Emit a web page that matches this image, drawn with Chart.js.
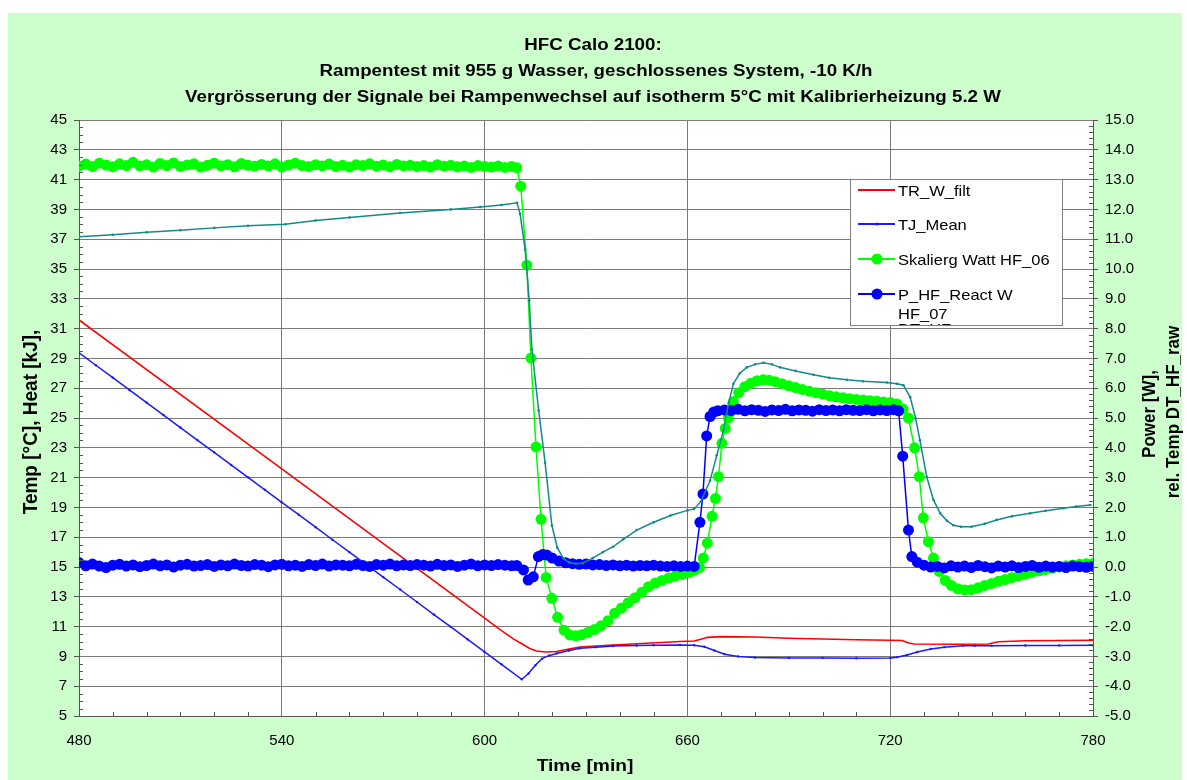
<!DOCTYPE html>
<html><head><meta charset="utf-8">
<script src="https://cdn.jsdelivr.net/npm/chart.js@4/dist/chart.umd.min.js"></script>
<style>html,body{margin:0;padding:0;background:#fff;}#wrap{position:relative;width:1187px;height:780px;}</style>
</head><body><div id="wrap"><canvas id="c" width="1187" height="780"></canvas></div>
<script>
// ---------- DATA ----------
const xTicks = [480, 540, 600, 660, 720, 780];
const yLeftTicks = [5,7,9,11,13,15,17,19,21,23,25,27,29,31,33,35,37,39,41,43,45];
const yRightTicks = [-5,-4,-3,-2,-1,0,1,2,3,4,5,6,7,8,9,10,11,12,13,14,15];

const titleLines = [
  "HFC Calo 2100:",
  "Rampentest mit 955 g Wasser, geschlossenes System, -10 K/h",
  "Vergrösserung der Signale bei Rampenwechsel auf isotherm 5°C mit Kalibrierheizung 5.2 W"
];
const xTitle = "Time [min]";
const yLeftTitle = "Temp [°C], Heat [kJ],";
const yRightTitle = ["Power [W],", "rel. Temp DT_HF_raw"];
const seriesNames = ["TR_W_filt", "TJ_Mean", "Skalierg Watt HF_06", "P_HF_React W HF_07", "DT_HF_raw"];

// TR_W_filt (left axis, °C)
const trTime = [480,540,598.7,605,608.5,611,613.5,615.4,618,621.3,625,628.2,633,638,648,657.8,662,664,666,670,680,690,700,710,720,723.5,725.5,727,740,749,752,760,780];
const trTemp = [31.58,21.58,11.78,10.73,10.18,9.85,9.52,9.36,9.3,9.33,9.5,9.63,9.7,9.77,9.88,10.0,10.03,10.15,10.28,10.33,10.3,10.22,10.17,10.12,10.08,10.07,9.9,9.83,9.82,9.83,9.98,10.05,10.08];

// TJ_Mean (left axis, °C)
const tjTime = [480,485,490,495,500,505,510,515,520,525,530,535,540,545,550,555,560,565,570,575,580,585,590,595,600,605,611,613,615,617,619,621.3,625,628.2,633,638,645,650,657.8,662,665,668,671,675,680,690,700,710,720,722,725,728,732,736,741.6,745,750,760,770,780];
const tjTemp = [29.38,28.54,27.71,26.87,26.03,25.2,24.36,23.52,22.69,21.85,21.02,20.18,19.34,18.51,17.67,16.83,16.0,15.16,14.32,13.49,12.65,11.81,10.98,10.14,9.3,8.47,7.46,7.85,8.4,8.85,9.05,9.2,9.4,9.54,9.62,9.7,9.73,9.75,9.77,9.75,9.65,9.4,9.15,9.0,8.93,8.9,8.9,8.88,8.9,8.95,9.1,9.3,9.5,9.62,9.72,9.72,9.72,9.73,9.73,9.74];

// Skalierg Watt HF_06 (right axis, W)
const hf06Time = [480,482,484,486,488,490,492,494,496,498,500,502,504,506,508,510,512,514,516,518,520,522,524,526,528,530,532,534,536,538,540,542,544,546,548,550,552,554,556,558,560,562,564,566,568,570,572,574,576,578,580,582,584,586,588,590,592,594,596,598,600,602,604,606,608,609.5,
  610.7,612.5,613.7,615.2,616.7,618.2,619.9,621.6,623.5,625.2,627,628.8,630.5,632.5,634.5,636.5,638.5,640.5,642.5,644.5,646.5,648.5,650.5,652.5,654.5,656.5,658.5,660.5,662.2,663.6,664.7,665.9,667.3,668.3,669.2,670.2,671.2,672.1,673.6,675.2,677,678.8,680.6,682.4,684.2,686,688,690,692,694,696,698,700,702,704,706,708,710,712,714,716,718,720,722,723.8,725.4,727.2,728.6,729.8,731.3,732.8,734.5,736.3,738.1,740,742,744,746,748,750,752,754,756,758,760,762,764,766,768,770,772,774,776,778,780];
const hf06Watt = [13.45,13.52,13.44,13.55,13.49,13.43,13.53,13.47,13.58,13.46,13.5,13.42,13.54,13.47,13.56,13.44,13.49,13.53,13.42,13.48,13.55,13.46,13.5,13.43,13.54,13.48,13.45,13.51,13.46,13.53,13.42,13.49,13.55,13.47,13.44,13.5,13.46,13.52,13.44,13.48,13.42,13.5,13.47,13.53,13.45,13.49,13.43,13.51,13.46,13.48,13.44,13.47,13.42,13.5,13.45,13.48,13.43,13.46,13.41,13.47,13.44,13.42,13.46,13.41,13.44,13.4,
  12.78,10.13,7.01,4.03,1.6,-0.35,-1.05,-1.69,-2.12,-2.28,-2.31,-2.27,-2.2,-2.1,-1.97,-1.8,-1.55,-1.38,-1.2,-1.03,-0.85,-0.66,-0.54,-0.45,-0.37,-0.3,-0.25,-0.18,-0.1,-0.02,0.3,0.8,1.7,2.3,3.03,4.15,4.65,5.0,5.55,5.85,6.05,6.17,6.25,6.28,6.27,6.22,6.15,6.08,6.02,5.96,5.9,5.85,5.8,5.75,5.71,5.68,5.65,5.62,5.6,5.58,5.56,5.54,5.52,5.47,5.3,5.0,4.0,3.03,1.65,0.85,0.3,-0.15,-0.45,-0.62,-0.73,-0.77,-0.76,-0.7,-0.62,-0.55,-0.48,-0.42,-0.36,-0.3,-0.24,-0.18,-0.13,-0.08,-0.04,0.0,0.04,0.07,0.09,0.11,0.12];

// P_HF_React W HF_07 (right axis, W)
const hf07Time = [480,482,484,486,488,490,492,494,496,498,500,502,504,506,508,510,512,514,516,518,520,522,524,526,528,530,532,534,536,538,540,542,544,546,548,550,552,554,556,558,560,562,564,566,568,570,572,574,576,578,580,582,584,586,588,590,592,594,596,598,600,602,604,606,608,
  609.5,611.5,612.9,614.4,615.9,617.2,618.4,620,622,624,626,628,630,632,634,636,638,640,642,644,646,648,650,652,654,656,658,660,662,
  663.7,664.6,665.7,666.7,667.8,669,671,673,675,677,679,681,683,685,687,689,691,693,695,697,699,701,703,705,707,709,711,713,715,717,719,721,722.5,
  723.7,725.4,726.4,728,730,732,734,736,738,740,742,744,746,748,750,752,754,756,758,760,762,764,766,768,770,772,774,776,778,780];
const hf07Watt = [0.15,0.04,0.1,0.03,-0.02,0.06,0.09,0.03,0.07,0.01,0.05,0.1,0.04,0.07,0.0,0.06,0.09,0.03,0.05,0.08,0.02,0.07,0.04,0.1,0.05,0.03,0.08,0.06,0.01,0.07,0.09,0.04,0.06,0.02,0.08,0.05,0.1,0.03,0.07,0.06,0.04,0.09,0.05,0.02,0.08,0.06,0.1,0.04,0.07,0.05,0.08,0.06,0.03,0.09,0.05,0.07,0.02,0.06,0.1,0.04,0.07,0.05,0.08,0.06,0.04,
  0.05,-0.1,-0.44,-0.33,0.35,0.42,0.4,0.3,0.2,0.14,0.11,0.09,0.1,0.07,0.08,0.05,0.07,0.04,0.06,0.03,0.05,0.04,0.06,0.03,0.02,0.04,0.02,0.03,0.02,
  1.5,2.45,4.4,5.05,5.2,5.24,5.27,5.25,5.29,5.24,5.28,5.26,5.22,5.27,5.25,5.29,5.24,5.27,5.26,5.23,5.28,5.25,5.27,5.24,5.28,5.26,5.25,5.28,5.24,5.27,5.25,5.28,5.24,
  3.72,1.24,0.35,0.16,0.06,0.0,0.02,-0.03,0.04,0.0,0.03,-0.02,0.05,0.01,-0.03,0.03,0.0,0.04,-0.02,0.02,0.05,-0.01,0.03,0.0,0.02,-0.02,0.03,0.01,-0.01,0.02];

// DT_HF_raw (right axis)
const dtTime = [480,490,500,510,520,530,541,550,560,575,590,598.7,605,609.6,610.5,612,613.2,614,616,617.9,619.9,621.5,623.3,625,627,629,632,635,638,641,645,650,655,660,662,664,666.7,668.7,670.7,672.2,673.6,675.5,677.6,680,682.5,685,687.4,692,697.3,702,707.2,712,719,722,723.9,725.9,727.5,728.8,730.8,732.8,734.8,736.8,738.7,741,744,748,751.5,756,761.4,766,771.3,775,779.2];
const dtRaw = [11.08,11.15,11.23,11.3,11.38,11.45,11.5,11.63,11.73,11.88,12.0,12.08,12.15,12.22,11.85,10.65,8.95,7.3,5.25,3.5,1.4,0.65,0.29,0.15,0.11,0.13,0.3,0.5,0.68,0.93,1.24,1.5,1.73,1.9,1.95,2.2,2.9,3.75,4.6,5.5,6.15,6.5,6.7,6.8,6.85,6.8,6.7,6.58,6.45,6.35,6.28,6.23,6.19,6.15,6.1,5.7,5.0,4.25,3.03,2.25,1.8,1.55,1.4,1.35,1.35,1.45,1.58,1.7,1.8,1.89,1.97,2.03,2.08];

// ---------- STYLE ----------
const FONT = "'Liberation Sans', Arial, sans-serif";
const GRID = '#7a7a7a';
const AXIS = '#555555';
const COL = { tr: '#ff0000', tj: '#1a1aff', hf06: '#00ff00', hf07: '#0000ff', dt: '#138a8a' };

const pts = (xs, ys) => xs.map((t, i) => ({ x: t, y: ys[i] }));

const decor = {
  id: 'decor',
  beforeDraw(chart) {
    const c = chart.ctx, a = chart.chartArea;
    c.save();
    c.fillStyle = '#ccffcc';
    c.fillRect(8, 13, 1174, 767);
    c.fillStyle = '#ffffff';
    c.fillRect(a.left, a.top, a.right - a.left, a.bottom - a.top);
    c.restore();
  },
  afterDraw(chart) {
    const c = chart.ctx, a = chart.chartArea, s = chart.scales;
    c.save();
    // minor ticks
    c.strokeStyle = AXIS; c.lineWidth = 1; c.beginPath();
    for (let i = 1; i < 80; i++) {
      if (i % 4 === 0) continue;
      const py = Math.round(s.y.getPixelForValue(5 + i * 0.5)) + 0.5;
      c.moveTo(a.left, py); c.lineTo(a.left + 4, py);
    }
    for (let i = 1; i < 100; i++) {
      if (i % 5 === 0) continue;
      const py = Math.round(s.y2.getPixelForValue(-5 + i * 0.2)) + 0.5;
      c.moveTo(a.right, py); c.lineTo(a.right - 4, py);
    }
    for (let i = 1; i < 30; i++) {
      if (i % 6 === 0) continue;
      const px = Math.round(s.x.getPixelForValue(480 + i * 10)) + 0.5;
      c.moveTo(px, a.bottom); c.lineTo(px, a.bottom - 4);
    }
    c.stroke();

    // titles
    c.fillStyle = '#000';
    const hText = (txt, cx, base, font, sx) => {
      c.save(); c.font = font; c.translate(cx, base); c.scale(sx, 1);
      c.textAlign = 'center'; c.textBaseline = 'alphabetic'; c.fillText(txt, 0, 0); c.restore();
    };
    const vText = (txt, cx, cy, font, sx) => {
      c.save(); c.font = font; c.translate(cx, cy); c.scale(sx, 1); c.rotate(-Math.PI / 2);
      c.textAlign = 'center'; c.textBaseline = 'middle'; c.fillText(txt, 0, 0); c.restore();
    };
    hText(titleLines[0], 593, 50, 'bold 16px ' + FONT, 1.17);
    hText(titleLines[1], 596, 76, 'bold 16px ' + FONT, 1.17);
    hText(titleLines[2], 593, 102, 'bold 16px ' + FONT, 1.17);
    hText(xTitle, 585, 771, 'bold 16px ' + FONT, 1.2);
    vText(yLeftTitle, 32, 422, 'bold 19px ' + FONT, 1.05);
    vText(yRightTitle[0], 1150, 414, 'bold 17px ' + FONT, 1.05);
    vText(yRightTitle[1], 1174, 412, 'bold 17px ' + FONT, 1.05);

    // legend box
    const L = { x: 850.5, y: 179.5, w: 212, h: 146 };
    c.fillStyle = '#fff'; c.fillRect(L.x, L.y, L.w, L.h);
    c.strokeStyle = '#808080'; c.lineWidth = 1; c.strokeRect(L.x, L.y, L.w, L.h);
    c.save();
    c.beginPath(); c.rect(L.x + 0.5, L.y + 0.5, L.w - 1, L.h - 1); c.clip();
    const rows = [
      { y: 190, col: COL.tr, r: 0, lines: [seriesNames[0]] },
      { y: 224, col: COL.tj, r: 1.6, lines: [seriesNames[1]] },
      { y: 259, col: COL.hf06, r: 5.5, lines: [seriesNames[2]] },
      { y: 294, col: COL.hf07, r: 5.5, lines: ["P_HF_React W", "HF_07"] },
      { y: 328, col: COL.dt, r: 1.6, lines: [seriesNames[4]] }
    ];
    rows.forEach(rw => {
      c.strokeStyle = rw.col; c.lineWidth = 2;
      c.beginPath(); c.moveTo(858, rw.y); c.lineTo(895, rw.y); c.stroke();
      if (rw.r) { c.fillStyle = rw.col; c.beginPath(); c.arc(877, rw.y, rw.r, 0, Math.PI * 2); c.fill(); }
      c.fillStyle = '#000';
      rw.lines.forEach((t, k) => {
        c.save(); c.font = '15px ' + FONT; c.translate(898, rw.y + 6 + k * 19); c.scale(1.1, 1);
        c.textAlign = 'left'; c.fillText(t, 0, 0); c.restore();
      });
    });
    c.restore();
    c.restore();
  }
};

const tickFont = { family: FONT, size: 15 };

new Chart(document.getElementById('c'), {
  type: 'line',
  data: {
    datasets: [
      { label: seriesNames[0], data: pts(trTime, trTemp), yAxisID: 'y', borderColor: COL.tr, borderWidth: 1.6, pointRadius: 0, order: 5 },
      { label: seriesNames[1], data: pts(tjTime, tjTemp), yAxisID: 'y', borderColor: COL.tj, backgroundColor: COL.tj, borderWidth: 1.5, pointRadius: 1.2, pointBorderWidth: 0, order: 4 },
      { label: seriesNames[2], data: pts(hf06Time, hf06Watt), yAxisID: 'y2', borderColor: COL.hf06, backgroundColor: COL.hf06, borderWidth: 1.5, pointRadius: 5.5, pointBorderWidth: 0, order: 3 },
      { label: seriesNames[3], data: pts(hf07Time, hf07Watt), yAxisID: 'y2', borderColor: COL.hf07, backgroundColor: COL.hf07, borderWidth: 1.5, pointRadius: 5.5, pointBorderWidth: 0, order: 2 },
      { label: seriesNames[4], data: pts(dtTime, dtRaw), yAxisID: 'y2', borderColor: COL.dt, backgroundColor: COL.dt, borderWidth: 1.5, pointRadius: 1.3, pointBorderWidth: 0, order: 1 }
    ]
  },
  options: {
    responsive: false, animation: false, events: [],
    layout: { padding: { top: 120, left: 0, right: 0, bottom: 0 } },
    plugins: { legend: { display: false }, tooltip: { enabled: false }, title: { display: false } },
    elements: { line: { tension: 0 } },
    scales: {
      x: {
        type: 'linear', min: 480, max: 780,
        afterBuildTicks: sc => { sc.ticks = xTicks.map(v => ({ value: v })); },
        afterFit: sc => { sc.height = 64; },
        grid: { color: GRID, lineWidth: 1, drawTicks: false },
        border: { display: true, color: AXIS, width: 1 },
        ticks: { font: tickFont, color: '#000', padding: 16, autoSkip: false, maxRotation: 0 }
      },
      y: {
        type: 'linear', position: 'left', min: 5, max: 45,
        afterBuildTicks: sc => { sc.ticks = yLeftTicks.map(v => ({ value: v })); },
        afterFit: sc => { sc.width = 79; },
        grid: { color: GRID, lineWidth: 1, drawTicks: true, tickLength: 5, tickColor: AXIS },
        border: { display: true, color: AXIS, width: 1 },
        ticks: { font: tickFont, color: '#000', padding: 7, autoSkip: false }
      },
      y2: {
        type: 'linear', position: 'right', min: -5, max: 15,
        afterBuildTicks: sc => { sc.ticks = yRightTicks.map(v => ({ value: v })); },
        afterFit: sc => { sc.width = 94; },
        grid: { drawOnChartArea: false, drawTicks: true, tickLength: 5, color: AXIS },
        border: { display: true, color: AXIS, width: 1 },
        ticks: { font: tickFont, color: '#000', padding: 7, autoSkip: false, callback: v => Number(v).toFixed(1) }
      }
    }
  },
  plugins: [decor]
});
</script></body></html>
